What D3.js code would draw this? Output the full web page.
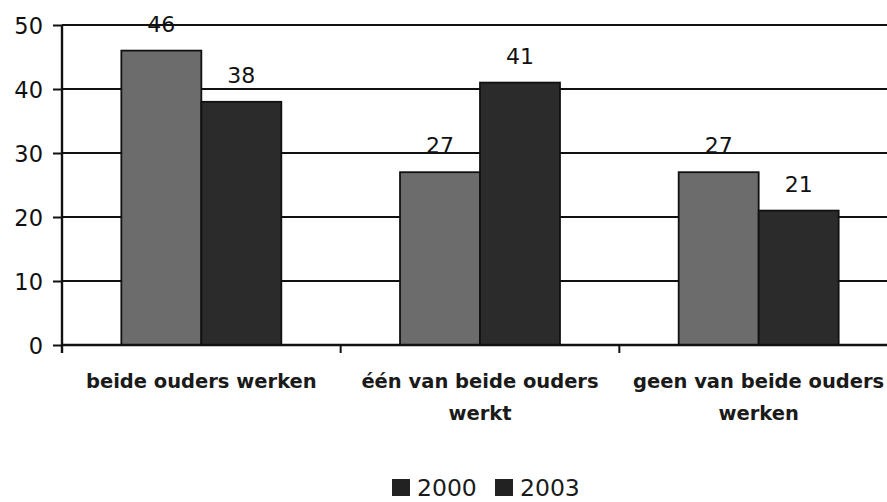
<!DOCTYPE html>
<html>
<head>
<meta charset="utf-8">
<script src="https://cdn.jsdelivr.net/npm/d3@7"></script>
<style>
  html, body { margin: 0; padding: 0; background: #fff; }
  svg { display: block; }
</style>
</head>
<body>
<svg id="chart" width="887" height="502"></svg>
<script>
const categories = [
  ["beide ouders werken"],
  ["één van beide ouders", "werkt"],
  ["geen van beide ouders", "werken"]
];
const series = ["2000", "2003"];
const values2000 = [46, 27, 27];
const values2003 = [38, 41, 21];
const yTicks = [0, 10, 20, 30, 40, 50];

const seriesValues = { "2000": values2000, "2003": values2003 };
const barColors = { "2000": "#6c6c6c", "2003": "#2b2b2b" };
const legendColors = { "2000": "#222222", "2003": "#222222" };

const svg = d3.select("#chart");
const plotLeft = 62, plotRight = 898, plotTop = 25, plotBottom = 345;

const catIdx = categories.map((d, i) => i);
const x0 = d3.scaleBand().domain(catIdx).range([plotLeft, plotRight]).paddingInner(0).paddingOuter(0);
const x1 = d3.scaleBand().domain(series).range([0, x0.bandwidth()]).paddingInner(0).paddingOuter(0.742);
const y = d3.scaleLinear().domain([0, 50]).range([plotBottom, plotTop]);

// gridlines
svg.append("g")
  .selectAll("line")
  .data(yTicks.filter(t => t > 0))
  .join("line")
  .attr("x1", plotLeft).attr("x2", plotRight)
  .attr("y1", d => y(d)).attr("y2", d => y(d))
  .attr("stroke", "#111").attr("stroke-width", 1.8);

// y axis
const yAxis = svg.append("g")
  .attr("transform", `translate(${plotLeft},0)`)
  .call(d3.axisLeft(y).tickValues(yTicks).tickSize(9).tickPadding(10).tickFormat(d3.format("d")));
yAxis.select(".domain").attr("stroke", "#111").attr("stroke-width", 2.4)
  .attr("d", `M0,${plotTop}V${plotBottom + 8}`);
yAxis.selectAll(".tick line").attr("stroke", "#111").attr("stroke-width", 2);
yAxis.selectAll(".tick text")
  .attr("font-family", "DejaVu Sans, Verdana, sans-serif")
  .attr("font-size", 22.5).attr("fill", "#111").attr("dy", "0.36em");

// bars
const groups = svg.append("g").selectAll("g")
  .data(catIdx)
  .join("g")
  .attr("transform", d => `translate(${x0(d)},0)`);

groups.selectAll("rect")
  .data(i => series.map(s => ({ s, v: seriesValues[s][i] })))
  .join("rect")
  .attr("x", d => x1(d.s))
  .attr("width", x1.bandwidth())
  .attr("y", d => y(d.v))
  .attr("height", d => y(0) - y(d.v))
  .attr("fill", d => barColors[d.s])
  .attr("stroke", "#111").attr("stroke-width", 1.8);

groups.selectAll("text.val")
  .data(i => series.map(s => ({ s, v: seriesValues[s][i] })))
  .join("text")
  .attr("class", "val")
  .attr("x", d => x1(d.s) + x1.bandwidth() / 2)
  .attr("y", d => y(d.v) - 19)
  .attr("text-anchor", "middle")
  .attr("font-family", "DejaVu Sans, Verdana, sans-serif")
  .attr("font-size", 22).attr("fill", "#111")
  .text(d => d.v);

// x axis
const xAxis = svg.append("g")
  .attr("transform", `translate(0,${plotBottom})`)
  .call(d3.axisBottom(x0).tickValues([]).tickSizeOuter(0));
xAxis.select(".domain").attr("stroke", "#111").attr("stroke-width", 2.4)
  .attr("d", `M${plotLeft},0H${plotRight}`);
xAxis.selectAll(".sep")
  .data(catIdx.slice(1))
  .join("line")
  .attr("class", "sep")
  .attr("x1", d => x0(d)).attr("x2", d => x0(d))
  .attr("y1", 0).attr("y2", 8)
  .attr("stroke", "#111").attr("stroke-width", 2);

// category labels
const catLabels = svg.append("g").selectAll("text")
  .data(catIdx)
  .join("text")
  .attr("x", d => x0(d) + x0.bandwidth() / 2)
  .attr("y", 388)
  .attr("text-anchor", "middle")
  .attr("font-family", "DejaVu Sans, Verdana, sans-serif")
  .attr("font-weight", "bold")
  .attr("font-size", 19.5)
  .attr("fill", "#1a1a1a");
catLabels.selectAll("tspan")
  .data(d => categories[d].map(line => ({ line, d })))
  .join("tspan")
  .attr("x", d => x0(d.d) + x0.bandwidth() / 2)
  .attr("dy", (d, i) => i === 0 ? 0 : 32)
  .text(d => d.line);

// legend
const legend = svg.append("g");
const legendX = [392, 495];
series.forEach((s, i) => {
  legend.append("rect")
    .attr("x", legendX[i]).attr("y", 479)
    .attr("width", 18).attr("height", 17)
    .attr("fill", legendColors[s]);
  legend.append("text")
    .attr("x", legendX[i] + 25).attr("y", 496)
    .attr("font-family", "DejaVu Sans, Verdana, sans-serif")
    .attr("font-size", 23.5).attr("fill", "#1a1a1a")
    .text(s);
});
</script>
</body>
</html>
